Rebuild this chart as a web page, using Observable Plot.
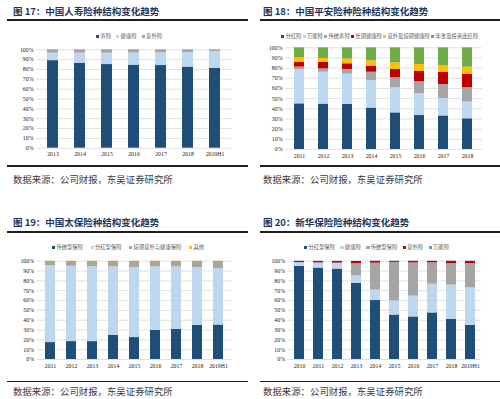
<!DOCTYPE html>
<html><head><meta charset="utf-8">
<script src="https://cdn.jsdelivr.net/npm/d3@7"></script>
<script src="https://cdn.jsdelivr.net/npm/@observablehq/plot@0.6"></script>
<style>
html,body{margin:0;padding:0;background:#fff;}
#page{position:relative;width:500px;height:399px;overflow:hidden;background:#fff;}
.title{position:absolute;font-family:"Noto Sans CJK SC",sans-serif;font-weight:700;font-size:9.5px;color:#1c3560;white-space:nowrap;line-height:1;}
.rule{position:absolute;height:2px;background:#1e1e1e;}
.caption{position:absolute;font-family:"Noto Sans CJK SC",sans-serif;font-size:9.3px;color:#3a3a3a;white-space:nowrap;line-height:1;letter-spacing:0.1px;}
.legend{position:absolute;display:flex;align-items:center;font-family:"Noto Sans CJK SC",sans-serif;font-size:5.3px;color:#595959;white-space:nowrap;line-height:1;}
.legend .item{display:flex;align-items:center;}
.legend .sw{display:inline-block;width:3.2px;height:3.2px;margin-right:1.2px;}
.chart{position:absolute;}
</style></head>
<body><div id="page"></div>
<script>
// ---------- Chart 17: 中国人寿 ----------
const title17 = "图 17：中国人寿险种结构变化趋势";
const years17 = ["2013","2014","2015","2016","2017","2018","2019H1"];
const series17 = ["寿险","健康险","意外险"];
const shouxian17 = [89.0, 86.4, 85.0, 84.4, 84.0, 82.4, 81.0];
const jiankang17 = [7.6, 10.2, 11.6, 12.4, 13.0, 14.8, 17.3];
const yiwai17 = [3.4, 3.4, 3.4, 3.2, 3.0, 2.8, 1.7];

// ---------- Chart 18: 中国平安 ----------
const title18 = "图 18：中国平安险种险种结构变化趋势";
const years18 = ["2011","2012","2013","2014","2015","2016","2017","2018"];
const series18 = ["分红险","万能险","传统寿险","长期健康险","意外及短期健康险","年金及投资连结险"];
const fenhong18 = [44.9, 44.6, 44.3, 40.7, 36.0, 33.4, 33.0, 30.2];
const wanneng18 = [33.8, 31.4, 29.7, 27.2, 24.7, 21.4, 17.2, 16.4];
const chuantong18 = [2.3, 3.3, 4.7, 8.1, 9.8, 11.8, 13.7, 14.1];
const changqi18 = [4.9, 6.3, 5.6, 6.0, 8.2, 10.1, 11.8, 13.1];
const duanqi18 = [4.3, 3.9, 4.6, 5.2, 6.5, 6.9, 6.6, 7.2];
const nianjin18 = [9.8, 10.5, 11.1, 12.8, 14.8, 16.4, 17.7, 19.0];

// ---------- Chart 19: 中国太保 ----------
const title19 = "图 19：中国太保险种结构变化趋势";
const years19 = ["2011","2012","2013","2014","2015","2016","2017","2018","2019H1"];
const series19 = ["传统型保险","分红型保险","短期意外与健康保险","其他"];
const chuantong19 = [17.2, 18.2, 18.2, 24.7, 22.3, 29.7, 30.7, 34.8, 35.1];
const fenhong19 = [78.4, 76.7, 76.4, 69.6, 71.3, 64.6, 63.6, 58.8, 57.5];
const duanqi19 = [4.1, 4.8, 5.1, 5.4, 6.1, 5.4, 5.4, 6.1, 7.1];
const qita19 = [0.3, 0.3, 0.3, 0.3, 0.3, 0.3, 0.3, 0.3, 0.3];

// ---------- Chart 20: 新华保险 ----------
const title20 = "图 20：新华保险险种结构变化趋势";
const years20 = ["2010","2011","2012","2013","2014","2015","2016","2017","2018","2019H1"];
const series20 = ["分红型保险","健康险","传统型保险","意外险","万能险"];
const fenhong20 = [94.6, 93.0, 92.0, 77.5, 60.0, 45.2, 43.3, 47.4, 40.8, 34.7];
const jiankang20 = [3.7, 5.0, 5.8, 7.7, 10.6, 14.5, 21.2, 29.1, 34.9, 38.2];
const chuantong20 = [0.3, 0.3, 0.3, 12.3, 27.4, 39.1, 33.8, 21.8, 21.8, 24.6];
const yiwai20 = [1.2, 1.4, 1.6, 2.2, 1.8, 1.0, 1.5, 1.5, 2.3, 2.3];
const wanneng20 = [0.2, 0.2, 0.2, 0.2, 0.2, 0.2, 0.2, 0.2, 0.2, 0.2];

const caption = "数据来源：公司财报，东吴证券研究所";
const yTicks = [0,10,20,30,40,50,60,70,80,90,100];

// ---------- styles / layout ----------
const C = {dark:"#1f4e79", light:"#bdd7ee", gray:"#a5a5a5", red:"#c00000", yellow:"#ffc000", green:"#70ad47", blue:"#5b9bd5"};

const charts = [
  {title:title17, years:years17, names:series17, vals:[shouxian17,jiankang17,yiwai17], colors:[C.dark,C.light,C.gray],
   ox:0, oy:0, top:40, mt:9.3, mb:17.3, ml:36, mr:18.3, pad:0.6,
   legend:{left:96, width:66, top:33.5}},
  {title:title18, years:years18, names:series18, vals:[fenhong18,wanneng18,chuantong18,changqi18,duanqi18,nianjin18], colors:[C.dark,C.light,C.gray,C.red,C.yellow,C.green],
   ox:250, oy:0, top:40, mt:7.3, mb:16, ml:35, mr:18.2, pad:0.57,
   legend:{left:281, width:197, top:33.5}},
  {title:title19, years:years19, names:series19, vals:[chuantong19,fenhong19,duanqi19,qita19], colors:[C.dark,C.light,C.gray,C.yellow],
   ox:0, oy:200, top:250, mt:10.7, mb:16, ml:36.5, mr:18.5, pad:0.54,
   legend:{left:52, width:152, top:245.2}},
  {title:title20, years:years20, names:series20, vals:[fenhong20,jiankang20,chuantong20,yiwai20,wanneng20], colors:[C.dark,C.light,C.gray,C.red,C.blue],
   ox:250, oy:200, top:250, mt:10.7, mb:16, ml:37.5, mr:19.4, pad:0.49,
   legend:{left:304, width:145, top:245.2}}
];

const page = document.getElementById("page");
function div(cls, css, text){const d=document.createElement("div");d.className=cls;Object.assign(d.style,css);if(text!=null)d.textContent=text;page.appendChild(d);return d;}

for (const c of charts) {
  const colLeft = c.ox === 0 ? 7 : 260;
  const colRight = c.ox === 0 ? 248 : 500;
  const titleTop = c.oy === 0 ? 6.5 : 217.5;
  const ruleTop = c.oy === 0 ? 19 : 230.5;
  const rule2Top = c.oy === 0 ? 164.8 : 380.5;
  const capTop = c.oy === 0 ? 174.5 : 387;
  div("title", {left:(c.ox+13)+"px", top:titleTop+"px"}, c.title);
  div("rule", {left:colLeft+"px", width:(colRight-colLeft)+"px", top:ruleTop+"px"});
  div("rule", {left:colLeft+"px", width:(colRight-colLeft)+"px", top:rule2Top+"px", height:"1.8px"});
  div("caption", {left:(c.ox+13)+"px", top:capTop+"px"}, caption);

  // legend
  const lg = div("legend", {left:c.legend.left+"px", width:c.legend.width+"px", top:c.legend.top+"px", justifyContent:"space-between"});
  c.names.forEach((n,k)=>{
    const it=document.createElement("span");it.className="item";
    const sw=document.createElement("span");sw.className="sw";sw.style.background=c.colors[k];
    it.appendChild(sw);it.appendChild(document.createTextNode(n));lg.appendChild(it);
  });

  const data = c.years.flatMap((yr,i)=>c.names.map((n,k)=>({year:yr, series:n, value:c.vals[k][i]})));
  const svg = Plot.plot({
    width:250, height:125,
    marginTop:c.mt, marginBottom:c.mb, marginLeft:c.ml, marginRight:c.mr,
    style:{fontFamily:"'Liberation Serif', serif", fontSize:"5.8px", color:"#1a1a1a", background:"transparent", overflow:"visible"},
    x:{domain:c.years, paddingInner:c.pad, paddingOuter:c.pad/2, label:null},
    y:{domain:[0,100], label:null},
    color:{domain:c.names, range:c.colors},
    marks:[
      Plot.gridY(yTicks, {stroke:"#d9d9d9", strokeOpacity:1, strokeWidth:0.8}),
      Plot.barY(data, Plot.stackY({x:"year", y:"value", fill:"series", order:c.names})),
      Plot.axisX({tickSize:0, tickPadding:4, label:null}),
      Plot.axisY(yTicks, {tickSize:0, tickPadding:3, tickFormat:d=>d+"%", label:null})
    ]
  });
  const holder = div("chart", {left:c.ox+"px", top:c.top+"px"});
  holder.appendChild(svg);
}
</script></body></html>
